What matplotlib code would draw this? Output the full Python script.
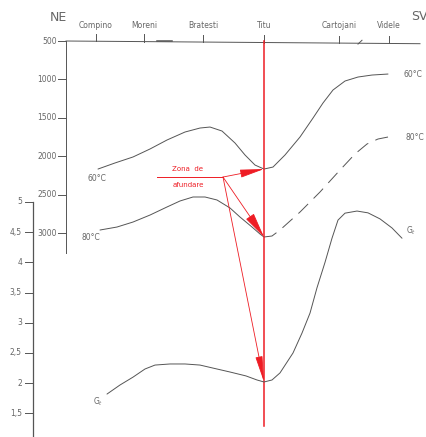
import matplotlib
matplotlib.use("Agg")
import matplotlib.pyplot as plt
from matplotlib import font_manager

names = {f.name for f in font_manager.fontManager.ttflist}
FAM = ['Liberation Sans Narrow', 'DejaVu Sans'] if 'Liberation Sans Narrow' in names else ['DejaVu Sans']

# ---- data ----
stations = ["Compino", "Moreni", "Bratesti", "Titu", "Cartojani", "Videle"]
station_x = [96, 144, 203, 264, 339, 389]

depth_ticks = [500, 1000, 1500, 2000, 2500, 3000]
gt_ticks = [5, 4.5, 4, 3.5, 3, 2.5, 2, 1.5]
gt_tick_labels = ["5", "4,5", "4", "3,5", "3", "2,5", "2", "1,5"]

iso60_x = [98, 115, 133, 150, 167, 185, 200, 210, 222, 235, 245, 255, 264,
           273, 285, 300, 313, 323, 333, 345, 358, 372, 388]
iso60_d = [2167, 2088, 2010, 1906, 1789, 1685, 1633, 1620, 1672, 1828, 1984, 2115, 2167,
           2141, 1984, 1750, 1503, 1307, 1138, 1021, 969, 943, 930]

iso80_x = [100, 117, 133, 150, 167, 180, 193, 205, 217, 230, 240, 252, 260, 264]
iso80_d = [2961, 2922, 2857, 2766, 2661, 2583, 2531, 2531, 2570, 2674, 2792, 2922, 3013, 3052]
iso80_dash_x = [264, 272, 280, 300, 320, 340, 355, 367, 378, 388]
iso80_dash_d = [3052, 3039, 2961, 2727, 2466, 2180, 1971, 1841, 1776, 1750]

gt_x = [107, 120, 133, 145, 155, 170, 185, 200, 213, 230, 246, 257, 264,
        272, 280, 293, 302, 310, 317, 325, 332, 338, 345, 357, 368, 380, 392, 402]
gt_v = [1.82, 1.97, 2.10, 2.235, 2.30, 2.318, 2.318, 2.30, 2.25, 2.185, 2.12, 2.053, 2.02,
        2.053, 2.17, 2.50, 2.83, 3.16, 3.58, 4.00, 4.40, 4.70, 4.815, 4.85, 4.82, 4.72, 4.57, 4.40]

titu_x = 264
zone_x = [157, 223]
zone_d = 2271

GRAY = '#555555'
TXT = '#666666'
RED = '#ee1c24'

fig = plt.figure(figsize=(4.26, 4.37), dpi=100)
ax1 = fig.add_axes([0, 0, 1, 1])
ax2 = fig.add_axes([0, 0, 1, 1])
for a in (ax1, ax2):
    a.set_axis_off()
    a.set_xlim(0, 426)
    a.patch.set_alpha(0)
ax1.set_ylim(5656, -34)
ax2.set_ylim(1.109, 8.344)

lw = 0.7
kw = dict(solid_joinstyle='round', solid_capstyle='round')
# top profile line and depth axis
ax1.plot([66, 420], [500, 535], color=GRAY, lw=lw)
ax1.plot([157, 172], [505, 505], color=GRAY, lw=1.1)
ax1.plot([66, 66], [500, 3260], color=GRAY, lw=lw)
for d in depth_ticks:
    ax1.plot([58, 66], [d, d], color=GRAY, lw=lw)
    ax1.text(57, d, str(d), ha='right', va='center', fontsize=5.5, color=TXT, family=FAM)
for sx, s in zip(station_x, stations):
    base = 500 + (sx - 66) * 35 / 354
    ax1.plot([sx, sx], [base, base - 95], color=GRAY, lw=lw)
    ax1.text(sx, 292, s, ha='center', va='center', fontsize=5.5, color=TXT, family=FAM)
ax1.plot([358, 362], [540, 490], color=GRAY, lw=lw)
ax1.text(50, 200, "NE", ha='left', va='center', fontsize=9, color=TXT, family=FAM)
ax1.text(411, 175, "SV", ha='left', va='center', fontsize=9, color=TXT, family=FAM)

# isotherms
ax1.plot(iso60_x, iso60_d, color=GRAY, lw=lw, **kw)
ax1.plot(iso80_x, iso80_d, color=GRAY, lw=lw, **kw)
ax1.plot(iso80_dash_x, iso80_dash_d, color=GRAY, lw=lw, dashes=(14, 8), dash_capstyle='butt')
ax1.text(88, 2290, "60°C", ha='left', va='center', fontsize=5.5, color=TXT, family=FAM)
ax1.text(82, 3060, "80°C", ha='left', va='center', fontsize=5.5, color=TXT, family=FAM)
ax1.text(403, 930, "60°C", ha='left', va='center', fontsize=5.5, color=TXT, family=FAM)
ax1.text(405, 1750, "80°C", ha='left', va='center', fontsize=5.5, color=TXT, family=FAM)

# Gt axis
ax2.plot([33, 33], [5, 1.109], color=GRAY, lw=0.9)
for g, lab in zip(gt_ticks, gt_tick_labels):
    ax2.plot([25, 33], [g, g], color=GRAY, lw=lw)
    ax2.text(22, g, lab, ha='right', va='center', fontsize=5.5, color=TXT, family=FAM)
ax2.plot(gt_x, gt_v, color=GRAY, lw=lw, **kw)
ax2.text(93, 1.70, "G$_t$", ha='left', va='center', fontsize=5.5, color=TXT, family=FAM)
ax2.text(406, 4.52, "G$_t$", ha='left', va='center', fontsize=5.5, color=TXT, family=FAM)

# red section line and arrows
ax1.plot([titu_x, titu_x], [500, 5513], color=RED, lw=1.1)
ax1.plot(zone_x, [zone_d, zone_d], color=RED, lw=0.7)
ax1.text(187, 2160, "Zona  de", ha='center', va='center', fontsize=5, color=RED, family=FAM)
ax1.text(188, 2380, "afundare", ha='center', va='center', fontsize=5, color=RED, family=FAM)

def arrow(xy, xycoords, hl, hw):
    ax1.annotate("", xy=xy, xycoords=xycoords,
                 xytext=(zone_x[1], zone_d), textcoords=ax1.transData,
                 arrowprops=dict(arrowstyle=f"-|>,head_length={hl},head_width={hw}",
                                 color=RED, lw=0.6, shrinkA=0, shrinkB=0,
                                 mutation_scale=10))

arrow((titu_x, iso60_d[12]), ax1.transData, 1.5, 0.25)
arrow((titu_x, iso80_d[-1]), ax1.transData, 1.6, 0.3)
arrow((titu_x, gt_v[12]), ax2.transData, 1.6, 0.22)

fig.savefig("out.png", dpi=100)
